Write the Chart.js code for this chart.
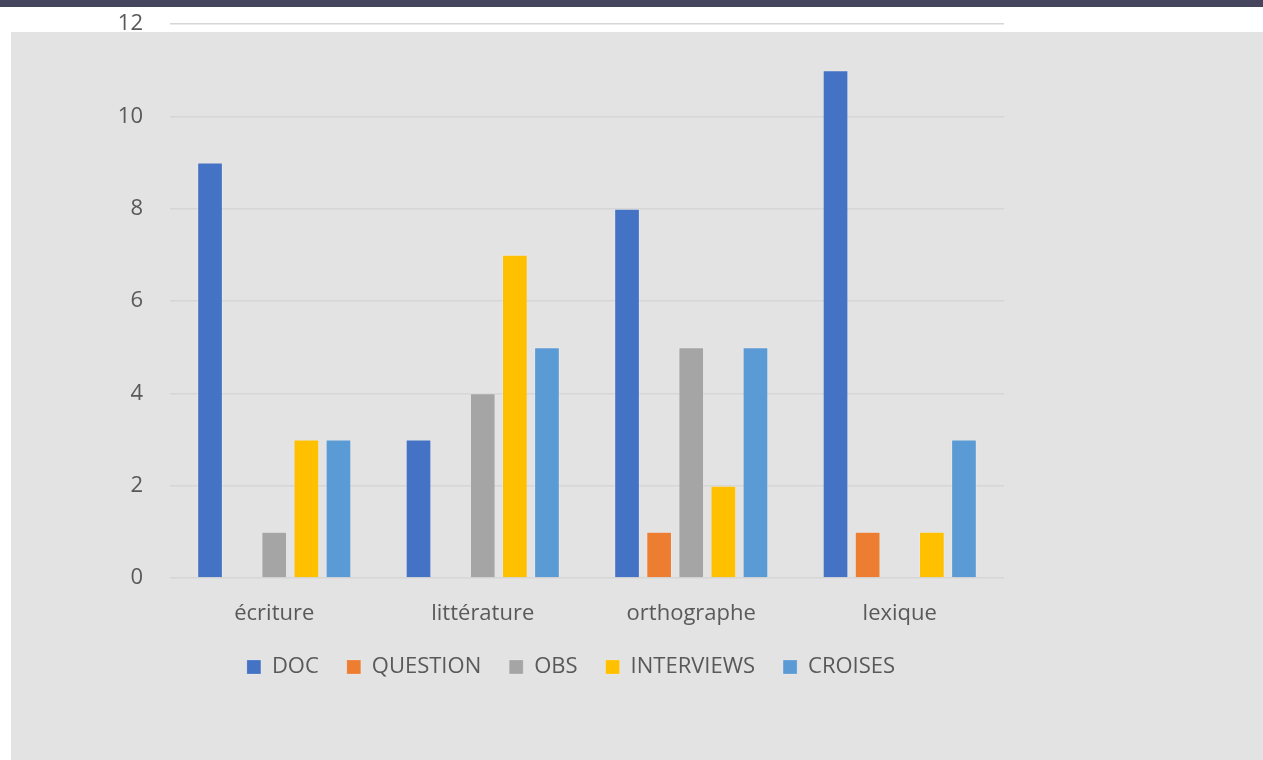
<!DOCTYPE html>
<html>
<head>
<meta charset="utf-8">
<script src="https://cdn.jsdelivr.net/npm/chart.js@4.4.1/dist/chart.umd.min.js"></script>
<style>
    html, body { margin: 0; padding: 0; background: #ffffff; }
    body { width: 1263px; height: 760px; position: relative; overflow: hidden; }
    #topbar { position: absolute; left: 0; top: 0; width: 1263px; height: 7px; background: #45465e; }
    #panel { position: absolute; left: 11px; top: 32px; width: 1252px; height: 728px; background: #e3e3e3; }
    #wrap { position: absolute; left: 0; top: 0; width: 1263px; height: 760px; }
</style>
</head>
<body>
<div id="topbar"></div>
<div id="panel"></div>
<div id="wrap"><canvas id="chart" width="1263" height="760"></canvas></div>
<script>
// catégories et séries
const categories = ['écriture', 'littérature', 'orthographe', 'lexique'];
const seriesNames = ['DOC', 'QUESTION', 'OBS', 'INTERVIEWS', 'CROISES'];
const docValues = [9, 3, 8, 11];
const questionValues = [0, 0, 1, 1];
const obsValues = [1, 4, 5, 0];
const interviewsValues = [3, 7, 2, 1];
const croisesValues = [3, 5, 5, 3];
const yTicks = [0, 2, 4, 6, 8, 10, 12];

const seriesValues = [docValues, questionValues, obsValues, interviewsValues, croisesValues];
const seriesColors = ['#4472c4', '#ed7d31', '#a5a5a5', '#ffc000', '#5b9bd5'];

const textColor = '#595959';
const fontFamily = '"Open Sans", "DejaVu Sans", sans-serif';

const datasets = seriesNames.map((name, i) => ({
    label: name,
    data: seriesValues[i],
    backgroundColor: seriesColors[i],
    borderColor: 'rgba(255,255,255,0.2)',
    borderWidth: 1,
    categoryPercentage: 0.77,
    barPercentage: 0.8
}));

// décale la légende pour la centrer comme dans l'original
const legendShift = {
    id: 'legendShift',
    afterLayout(chart) {
        const shift = 69;
        chart.legend.left += shift;
        chart.legend.right += shift;
    }
};

new Chart(document.getElementById('chart').getContext('2d'), {
    type: 'bar',
    data: { labels: categories, datasets: datasets },
    plugins: [legendShift],
    options: {
        responsive: false,
        animation: false,
        layout: { padding: { left: 0, right: 259, top: 24, bottom: 72 } },
        scales: {
            x: {
                grid: { display: false, drawTicks: true, tickLength: 23, tickColor: 'rgba(0,0,0,0)' },
                border: { display: false },
                ticks: { color: textColor, padding: 0, font: { family: fontFamily, size: 22 } },
                afterFit: (scale) => { scale.height = 50; }
            },
            y: {
                min: 0,
                max: 12,
                afterBuildTicks: (scale) => { scale.ticks = yTicks.map(v => ({ value: v })); },
                grid: { color: '#d6d6d6', lineWidth: 1.5, drawTicks: true, tickLength: 27, tickColor: 'rgba(0,0,0,0)' },
                border: { display: false },
                ticks: { color: textColor, padding: 0, font: { family: fontFamily, size: 22 } },
                afterFit: (scale) => { scale.width = 170; }
            }
        },
        plugins: {
            legend: {
                position: 'bottom',
                labels: {
                    color: textColor,
                    boxWidth: 14,
                    boxHeight: 14,
                    padding: 28,
                    font: { family: fontFamily, size: 22 }
                }
            },
            tooltip: { enabled: false }
        }
    }
});
</script>
</body>
</html>
